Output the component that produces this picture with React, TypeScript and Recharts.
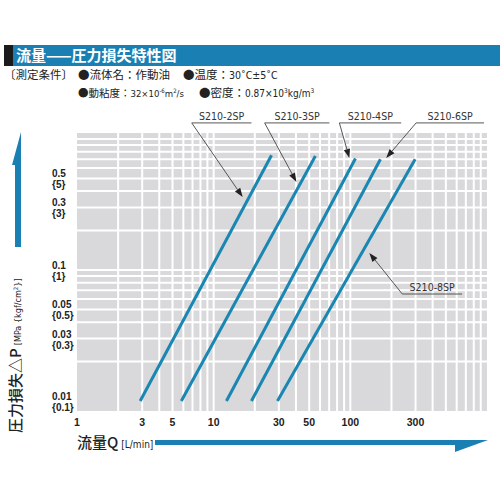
import React from 'react';
import { LineChart, Line, XAxis, YAxis, CartesianGrid, ReferenceLine } from 'recharts';

// ---- data ----
const seriesNames = ['S210-2SP', 'S210-3SP', 'S210-4SP', 'S210-6SP', 'S210-8SP'];
const qAtBottom = [2.9, 5.8, 12.4, 18.9, 29.3];
const pAtBottom = [0.01, 0.01, 0.01, 0.01, 0.01];
const qAtTop = [26.5, 55.5, 109, 166, 298];
const pAtTop = [0.75, 0.74, 0.71, 0.7, 0.7];

const xTickValues = [1, 3, 5, 10, 30, 50, 100, 300];
const yTickValues = [0.01, 0.03, 0.05, 0.1, 0.3, 0.5];
const yTickSubLabels = ['{0.1}', '{0.3}', '{0.5}', '{1}', '{3}', '{5}'];
const xGridValues = [2, 3, 4, 5, 6, 7, 8, 9, 10, 20, 30, 40, 50, 60, 70, 80, 90, 100, 200, 300, 400, 500, 600, 700, 800, 900];
const yGridValues = [0.02, 0.03, 0.04, 0.05, 0.06, 0.07, 0.08, 0.09, 0.1, 0.2, 0.3, 0.4, 0.5, 0.6, 0.7, 0.8, 0.9, 1];

// annotation leaders (data coordinates)
const noteElbowQ = [6.91, 23.6, 83.1, 303, 240];
const noteEndQ = [18.9, 70.3, 235.6, 951, 657];
const noteP = [1.325, 1.325, 1.325, 1.325, 0.0656];
const noteTipQ = [16.3, 40.3, 98.4, 183, 137.7];
const noteTipP = [0.36, 0.47, 0.716, 0.716, 0.135];

const BLUE = '#1a80b4';
const LINE_BLUE = '#1a86b2';
const NUM_FONT = '"Liberation Sans", Arial, sans-serif';
const COND_FONT = '"DejaVu Sans Condensed", "Liberation Sans Narrow", "Liberation Sans", sans-serif';
const JP_FONT = '"Noto Sans CJK JP", "Noto Sans", sans-serif';

const seriesData = seriesNames.map((n, i) => [
  { q: qAtBottom[i], p: pAtBottom[i] },
  { q: qAtTop[i], p: pAtTop[i] },
]);

const YTick = (props: any) => {
  const { y, payload } = props;
  const idx = yTickValues.indexOf(payload.value);
  return (
    <g>
      <text x={52} y={y - 1} fontSize={10} fontWeight="bold" fill="#222" fontFamily={NUM_FONT}>
        {String(payload.value)}
      </text>
      <text x={52} y={y + 10} fontSize={10} fontWeight="bold" fill="#222" fontFamily={NUM_FONT}>
        {idx >= 0 ? yTickSubLabels[idx] : ''}
      </text>
    </g>
  );
};

const XTick = (props: any) => {
  const { x, payload } = props;
  return (
    <text x={x} y={426} textAnchor="middle" fontSize={10.5} fontWeight="bold" fill="#222" fontFamily={NUM_FONT}>
      {String(payload.value)}
    </text>
  );
};

const ArrowShape = (props: any) => {
  const { x1, y1, x2, y2 } = props;
  const dx = x2 - x1;
  const dy = y2 - y1;
  const len = Math.sqrt(dx * dx + dy * dy) || 1;
  const ux = dx / len;
  const uy = dy / len;
  const L = 9;
  const W = 3.2;
  const bx = x2 - ux * L;
  const by = y2 - uy * L;
  const pts = `${x2},${y2} ${bx - uy * W},${by + ux * W} ${bx + uy * W},${by - ux * W}`;
  return (
    <g>
      <line x1={x1} y1={y1} x2={bx} y2={by} stroke="#444" strokeWidth={0.9} />
      <polygon points={pts} fill="#222" />
    </g>
  );
};

export default function App() {
  return (
    <div style={{ position: 'absolute', left: 0, top: 0, width: 500, height: 500, background: '#fff', overflow: 'hidden' }}>
      <div style={{ position: 'absolute', left: 0, top: 0 }}>
        <LineChart width={500} height={500} margin={{ top: 133, right: 13, bottom: 0, left: 0 }}>
          <CartesianGrid
            fill="#d9d9db"
            fillOpacity={1}
            stroke="#ffffff"
            strokeWidth={2}
            horizontalValues={yGridValues}
            verticalValues={xGridValues}
          />
          <XAxis
            dataKey="q"
            type="number"
            scale="log"
            domain={[1, 1000]}
            allowDataOverflow
            ticks={xTickValues}
            interval={0}
            height={89}
            axisLine={false}
            tickLine={false}
            tick={<XTick />}
          />
          <YAxis
            dataKey="p"
            type="number"
            scale="log"
            domain={[0.0084, 1.11]}
            allowDataOverflow
            ticks={yTickValues}
            interval={0}
            width={77}
            axisLine={false}
            tickLine={false}
            tick={<YTick />}
          />
          {seriesNames.map((n, i) => (
            <Line
              key={n}
              data={seriesData[i]}
              dataKey="p"
              name={n}
              stroke={LINE_BLUE}
              strokeWidth={3}
              dot={false}
              activeDot={false}
              isAnimationActive={false}
            />
          ))}
          {seriesNames.map((n, i) => (
            <ReferenceLine
              key={'h' + n}
              ifOverflow="visible"
              segment={[
                { x: noteElbowQ[i], y: noteP[i] },
                { x: noteEndQ[i], y: noteP[i] },
              ]}
              stroke="#444"
              strokeWidth={0.9}
              label={{ value: n, position: 'top', offset: 3, fontSize: 10.5, fill: '#333', fontFamily: COND_FONT }}
            />
          ))}
          {seriesNames.map((n, i) => (
            <ReferenceLine
              key={'a' + n}
              ifOverflow="visible"
              segment={[
                { x: noteElbowQ[i], y: noteP[i] },
                { x: noteTipQ[i], y: noteTipP[i] },
              ]}
              shape={ArrowShape}
            />
          ))}
        </LineChart>
      </div>
      <svg width={500} height={500} style={{ position: 'absolute', left: 0, top: 0, pointerEvents: 'none' }}>
        {/* title bar */}
        <rect x={4} y={45} width={9} height={21} fill="#1b1b1b" />
        <rect x={13} y={45} width={487} height={21} fill={BLUE} />
        <text x={16} y={61} fontSize={15} fontWeight="bold" fill="#fff" fontFamily={JP_FONT}>
          流量——圧力損失特性図
        </text>
        {/* conditions */}
        <g fontFamily={JP_FONT} fontSize={11.5} fill="#222">
          <text x={4} y={79}>〔測定条件〕</text>
          <text x={78} y={79}>●流体名：作動油</text>
          <text x={183} y={79}>
            ●温度：<tspan fontFamily={COND_FONT} fontSize={10.5}>30˚C±5˚C</tspan>
          </text>
          <text x={78} y={97} fontSize={10.5}>
            ●動粘度：<tspan fontFamily={COND_FONT} fontSize={9.5}>32×10</tspan>
            <tspan fontFamily={COND_FONT} fontSize={6} dy={-4}>-6</tspan>
            <tspan fontFamily={COND_FONT} fontSize={9.5} dy={4}>m</tspan>
            <tspan fontFamily={COND_FONT} fontSize={6} dy={-4}>2</tspan>
            <tspan fontFamily={COND_FONT} fontSize={9.5} dy={4}>/s</tspan>
          </text>
          <text x={199} y={97}>
            ●密度：<tspan fontFamily={COND_FONT} fontSize={10}>0.87×10</tspan>
            <tspan fontFamily={COND_FONT} fontSize={6.5} dy={-4}>3</tspan>
            <tspan fontFamily={COND_FONT} fontSize={10} dy={4}>kg/m</tspan>
            <tspan fontFamily={COND_FONT} fontSize={6.5} dy={-4}>3</tspan>
          </text>
        </g>
        {/* y axis arrow */}
        <polygon points="15,247 21,247 21,132 12,165 15,165" fill={BLUE} />
        {/* x axis arrow */}
        <polygon points="155,440 488,440 455,452 455,445 155,445" fill={BLUE} />
        {/* y axis title */}
        <text x={21} y={433} transform="rotate(-90, 21, 433)" fill="#222" fontFamily={JP_FONT}>
          <tspan fontSize={15} fontWeight={500}>圧力損失△P</tspan>
          <tspan fontSize={9} dx={3} fontFamily={COND_FONT}>[MPa {'{'}kgf/cm</tspan>
          <tspan fontSize={6} dy={-3} fontFamily={COND_FONT}>2</tspan>
          <tspan fontSize={9} dy={3} fontFamily={COND_FONT}>{'}'}]</tspan>
        </text>
        {/* x axis title */}
        <text x={77} y={448} fill="#222" fontFamily={JP_FONT}>
          <tspan fontSize={15} fontWeight={500}>流量Q</tspan>
          <tspan fontSize={10} dx={3} fontFamily={COND_FONT}>[L/min]</tspan>
        </text>
      </svg>
    </div>
  );
}
